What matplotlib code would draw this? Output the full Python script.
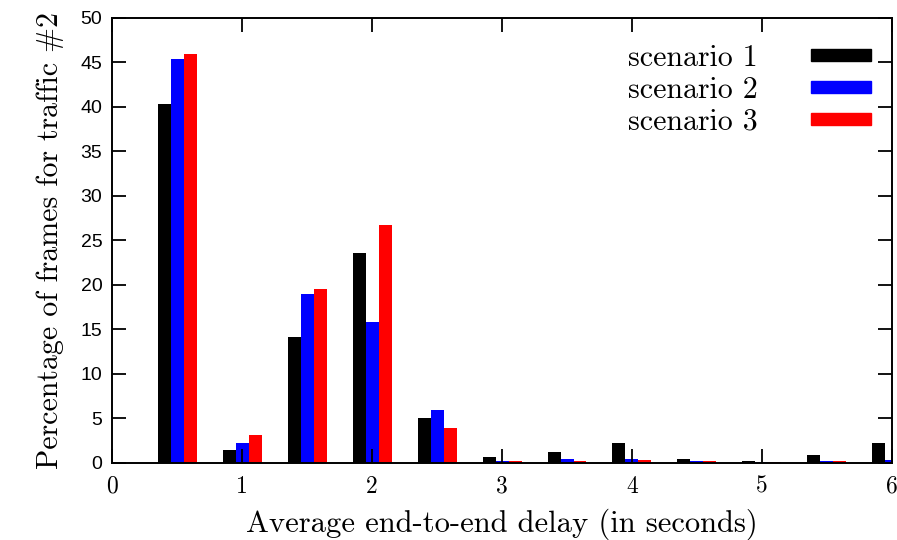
import matplotlib.pyplot as plt
from matplotlib.patches import Rectangle
import numpy as np

# delay bins (group centres, seconds)
groups = [0.5, 1.0, 1.5, 2.0, 2.5, 3.0, 3.5, 4.0, 4.5, 5.0, 5.5, 6.0]
scenario1 = [40.3, 1.5, 14.2, 23.6, 5.1, 0.7, 1.2, 2.2, 0.4, 0.2, 0.95, 2.2]
scenario2 = [45.4, 2.3, 19.0, 15.8, 5.9, 0.2, 0.45, 0.45, 0.2, 0.15, 0.25, 0.3]
scenario3 = [45.9, 3.2, 19.5, 26.7, 3.9, 0.2, 0.2, 0.35, 0.2, 0.1, 0.2, 0.2]
labels = ["scenario 1", "scenario 2", "scenario 3"]
colors = ["black", "blue", "red"]

fig = plt.figure(figsize=(8.97, 5.4), dpi=100)
ax = fig.add_axes([0.1249, 0.1426, 0.8695, 0.8241])

x = np.array(groups)
w = 0.1
for i, (vals, c) in enumerate(zip([scenario1, scenario2, scenario3], colors)):
    ax.bar(x + (i - 1) * w, vals, width=w, color=c, linewidth=0)

ax.set_xlim(0, 6)
ax.set_ylim(0, 50)
ax.set_xticks(range(0, 7))
ax.set_yticks(range(0, 51, 5))
ax.tick_params(direction="in", length=10, width=1.3, top=True, right=True)
ax.tick_params(axis="x", pad=9)
ax.tick_params(axis="y", pad=7)
for s in ax.spines.values():
    s.set_linewidth(1.4)

for t in ax.get_xticklabels():
    t.set_fontfamily("cmr10")
    t.set_fontsize(17)
for t in ax.get_yticklabels():
    t.set_fontfamily("Liberation Sans")
    t.set_fontsize(14)

ax.set_xlabel("Average end-to-end delay (in seconds)", family="cmr10",
              fontsize=22, labelpad=8)
ax.set_ylabel("Percentage of frames for traffic #2", family="cmr10",
              fontsize=21.5, labelpad=12)

handles = [Rectangle((0, 0), 1, 1, color=c) for c in colors]
ax.legend(handles, labels, loc="upper right", markerfirst=False, frameon=False,
          handlelength=2.0, handleheight=0.25, handletextpad=1.8,
          labelspacing=0.15, borderpad=0, borderaxespad=0,
          bbox_to_anchor=(0.973, 0.94),
          prop={"family": "cmr10", "size": 21.5})

fig.savefig("out.png", dpi=100)
